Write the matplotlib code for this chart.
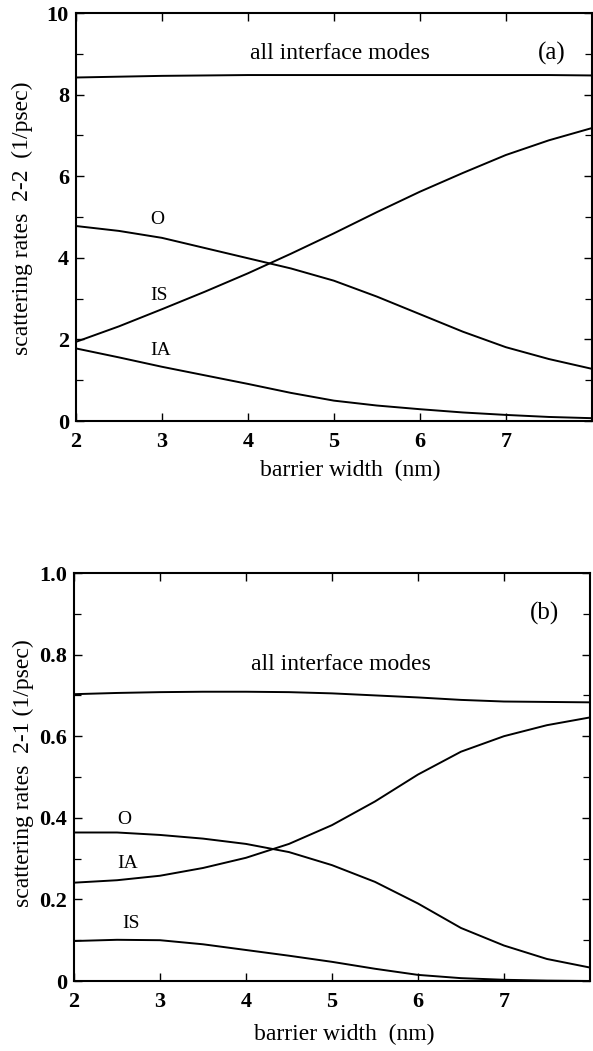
import matplotlib
matplotlib.use('Agg')
import matplotlib.pyplot as plt
from matplotlib.ticker import MultipleLocator, FixedLocator

plt.rcParams['font.family'] = ['Liberation Serif', 'DejaVu Serif']

# barrier width (nm)
width = [2.0, 2.5, 3.0, 3.5, 4.0, 4.5, 5.0, 5.5, 6.0, 6.5, 7.0, 7.5, 8.0]

# (a) scattering rates 2-2
a_all = [8.42, 8.44, 8.46, 8.47, 8.48, 8.48, 8.48, 8.48, 8.48, 8.48, 8.48, 8.48, 8.47]
a_O = [4.78, 4.66, 4.49, 4.24, 3.99, 3.74, 3.44, 3.05, 2.62, 2.19, 1.81, 1.52, 1.28]
a_IS = [1.94, 2.32, 2.74, 3.17, 3.62, 4.10, 4.60, 5.12, 5.62, 6.08, 6.52, 6.88, 7.18]
a_IA = [1.78, 1.56, 1.33, 1.12, 0.91, 0.69, 0.50, 0.38, 0.29, 0.21, 0.15, 0.10, 0.07]

# (b) scattering rates 2-1
b_all = [0.703, 0.706, 0.708, 0.709, 0.709, 0.708, 0.705, 0.700, 0.695, 0.689, 0.685, 0.684, 0.683]
b_O = [0.364, 0.364, 0.358, 0.349, 0.336, 0.316, 0.284, 0.243, 0.190, 0.130, 0.087, 0.054, 0.033]
b_IA = [0.241, 0.247, 0.258, 0.277, 0.302, 0.336, 0.382, 0.440, 0.506, 0.562, 0.600, 0.627, 0.646]
b_IS = [0.098, 0.101, 0.100, 0.090, 0.076, 0.062, 0.047, 0.030, 0.015, 0.007, 0.003, 0.001, 0.000]

xticks = [2, 3, 4, 5, 6, 7]

fig = plt.figure(figsize=(5.93, 10.51), dpi=100)
ax1 = fig.add_axes([0.128, 0.5994, 0.870, 0.3882])
ax2 = fig.add_axes([0.1248, 0.0666, 0.870, 0.3882])

lw = 1.4
for y in (a_all, a_O, a_IS, a_IA):
    ax1.plot(width, y, color='black', lw=lw)
for y in (b_all, b_O, b_IA, b_IS):
    ax2.plot(width, y, color='black', lw=lw)

ax1.set_ylim(0, 10)
ax1.yaxis.set_major_locator(FixedLocator([0, 2, 4, 6, 8, 10]))
ax1.yaxis.set_minor_locator(MultipleLocator(1))
ax1.set_ylabel('scattering rates  2-2  (1/psec)', fontsize=17, va='center')
ax1.yaxis.set_label_coords(-0.103, 0.498)
ax1.set_xlabel('barrier width  (nm)', fontsize=17, va='center')
ax1.xaxis.set_label_coords(0.531, -0.12)

ax2.set_ylim(0, 1.0)
ax2.yaxis.set_major_locator(FixedLocator([0, 0.2, 0.4, 0.6, 0.8, 1.0]))
ax2.set_yticklabels(['0', '0.2', '0.4', '0.6', '0.8', '1.0'])
ax2.yaxis.set_minor_locator(MultipleLocator(0.1))
ax2.set_ylabel('scattering rates  2-1 (1/psec)', fontsize=17, va='center')
ax2.yaxis.set_label_coords(-0.099, 0.51)
ax2.set_xlabel('barrier width  (nm)', fontsize=17, va='center')
ax2.xaxis.set_label_coords(0.523, -0.132)

for ax in (ax1, ax2):
    ax.set_xlim(2, 8)
    ax.xaxis.set_major_locator(FixedLocator(xticks))
    ax.tick_params(which='both', direction='in', top=True, right=True)
    ax.tick_params(which='major', length=6, width=1, labelsize=16)
    ax.tick_params(which='minor', length=5, width=0.9)
    ax.tick_params(axis='x', which='major', pad=8)
    ax.tick_params(axis='y', which='major', pad=5)
    for lab in ax.get_xticklabels() + ax.get_yticklabels():
        lab.set_fontweight('bold')
    for s in ax.spines.values():
        s.set_linewidth(1.5)

ax1.text(5.07, 9.0, 'all interface modes', fontsize=17, ha='center', va='center')
ax1.text(7.53, 9.0, '(a)', fontsize=18, ha='center', va='center')
ax1.text(2.95, 4.95, 'O', fontsize=14, ha='center', va='center')
ax1.text(2.97, 3.08, 'IS', fontsize=14, ha='center', va='center')
ax1.text(2.98, 1.73, 'IA', fontsize=14, ha='center', va='center')

ax2.text(5.1, 0.775, 'all interface modes', fontsize=17, ha='center', va='center')
ax2.text(7.47, 0.90, '(b)', fontsize=18, ha='center', va='center')
ax2.text(2.59, 0.395, 'O', fontsize=14, ha='center', va='center')
ax2.text(2.62, 0.289, 'IA', fontsize=14, ha='center', va='center')
ax2.text(2.66, 0.14, 'IS', fontsize=14, ha='center', va='center')

fig.savefig('out.png', dpi=100)
